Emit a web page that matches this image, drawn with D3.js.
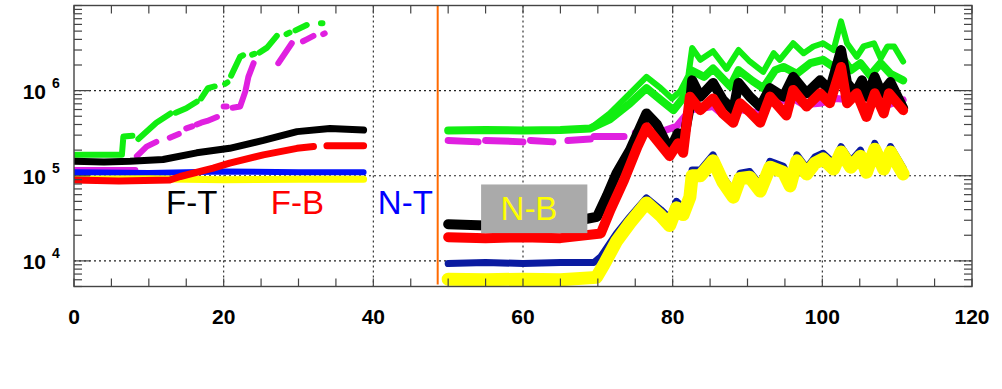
<!DOCTYPE html>
<html>
<head>
<meta charset="utf-8">
<script src="https://cdn.jsdelivr.net/npm/d3@7/dist/d3.min.js"></script>
<style>
  body { margin: 0; background: #fff; }
  svg { display: block; font-family: "Liberation Sans", Arial, sans-serif; }
</style>
</head>
<body>
<div id="chart"></div>
<script>
// Ejes
const xTicks = [0, 20, 40, 60, 80, 100, 120];
const xGrid = [20, 40, 60, 80, 100];
const yDecades = [1e4, 1e5, 1e6];
const yExponents = ['4', '5', '6'];
const splitX = 48.6;

// Series, [x, valor]; null = hueco
const greenLeft = [
  [0, 1.76e5], [6.4, 1.76e5], [6.6, 2.9e5], [7.8, 2.95e5], null,
  [8.6, 2.7e5], [11.0, 4.2e5], [12.9, 5.4e5], null,
  [13.6, 5.5e5], [15.0, 6.2e5], [16.4, 7.4e5], null,
  [17.0, 8.1e5], [17.9, 1.07e6], [18.8, 1.12e6], null,
  [20.2, 1.2e6], [20.5, 1.25e6], null,
  [21.0, 1.5e6], [22.2, 2.5e6], [22.6, 2.6e6], null,
  [23.8, 2.65e6], [24.1, 2.7e6], null,
  [24.8, 2.8e6], [25.8, 3.2e6], [27.1, 4.4e6], null,
  [28.4, 4.6e6], [28.8, 4.8e6], null,
  [29.6, 5.1e6], [31.1, 5.9e6], null,
  [33.0, 6.2e6], [33.2, 6.2e6]
];
const magentaLeft = [
  [0, 1.17e5], [8.2, 1.17e5], null,
  [8.4, 1.7e5], [9.7, 2.2e5], [11.0, 2.5e5], null,
  [12.8, 2.8e5], [14.0, 3.1e5], null,
  [15.0, 3.6e5], [15.8, 3.8e5], null,
  [16.4, 4.0e5], [17.0, 4.2e5], [17.8, 4.4e5], [19.1, 4.9e5], null,
  [20.0, 6.5e5], [20.4, 6.5e5], null,
  [21.2, 6.3e5], [22.2, 6.5e5], [22.9, 9.8e5], [23.3, 1.45e6], [24.0, 2.1e6], null,
  [27.3, 2.1e6], [28.2, 2.75e6], [29.1, 3.6e6], null,
  [30.6, 3.8e6], [31.1, 4.0e6], [32.0, 4.4e6], null,
  [33.3, 4.6e6], [33.5, 4.7e6]
];
const blackLeft = [
  [0, 1.48e5], [4, 1.45e5], [7.5, 1.48e5], [11.9, 1.55e5], [16.4, 1.86e5], [20.8, 2.1e5],
  [25.3, 2.6e5], [29.8, 3.3e5], [34.2, 3.6e5], [38.7, 3.45e5]
];
const redLeft = [
  [0, 8.9e4], [6, 8.7e4], [12.8, 8.9e4], [14.2, 9.8e4], [18.6, 1.23e5], [20.8, 1.41e5],
  [25.3, 1.76e5], [29.8, 2.1e5], [32.0, 2.2e5], null, [33.8, 2.25e5], [38.7, 2.25e5]
];
const blueLeft = [[0, 1.1e5], [10, 1.08e5], [20, 1.12e5], [30, 1.1e5], [38.7, 1.1e5]];
const yellowLeft = [[0, 9.1e4], [10, 9.2e4], [20, 9.0e4], [30, 9.1e4], [38.7, 9.1e4]];

const greenUpperRight = [
  [69, 3.6e5], [71.6, 5.4e5], [74.3, 9.3e5], [76.5, 1.45e6], [78.4, 1.07e6], [79.9, 8.1e5],
  [81.0, 9.8e5], [82.1, 1.5e6], [82.6, 3.16e6], [83.7, 2.3e6], [85.4, 2.9e6], [87.2, 1.8e6],
  [88.8, 3.0e6], [90.3, 2.2e6], [92.1, 1.66e6], [93.5, 2.75e6], [94.3, 2.3e6], [96.1, 3.6e6],
  [97.5, 2.75e6], [98.8, 3.3e6], [100.1, 3.6e6], [101.5, 3.0e6], [102.5, 6.5e6], [103.3, 3.6e6],
  [104.6, 2.5e6], [105.5, 3.3e6], [106.9, 3.6e6], [107.8, 2.4e6], [108.7, 3.3e6], [109.6, 3.3e6],
  [110.8, 2.2e6]
];
const greenLowerRight = [
  [50, 3.4e5], [55, 3.45e5], [60, 3.4e5], [65, 3.45e5], [69, 3.6e5], [71.6, 4.6e5], [74.3, 7.1e5],
  [76.5, 1.07e6], [78.4, 7.8e5], [80.1, 5.9e5], [81.2, 7.8e5], [82.1, 1.02e6], [82.4, 1.74e6],
  [84.2, 1.45e6], [85.4, 1.82e6], [87.7, 1.12e6], [88.8, 1.74e6], [90.7, 1.29e6], [92.1, 1.07e6],
  [93.7, 1.74e6], [94.8, 1.9e6], [96.6, 1.58e6], [98.4, 2.1e6], [100.1, 2.3e6], [101.5, 1.9e6],
  [102.6, 2.5e6], [103.8, 1.74e6], [105.1, 2.1e6], [106.4, 1.51e6], [107.8, 2.1e6], [109.1, 1.58e6],
  [110.8, 1.32e6]
];
const magentaRight = [
  [50, 2.6e5], [54, 2.5e5], null, [55, 2.6e5], [60, 2.5e5], null, [61, 2.6e5], [64, 2.5e5], null,
  [66, 2.6e5], [69, 2.7e5], null, [69.5, 2.9e5], [73.5, 2.9e5], null, [75, 3.2e5], [76.2, 3.2e5], null,
  [78.5, 3.3e5], [80.5, 3.8e5], [82.3, 5.9e5], [85.4, 6.5e5], [87.7, 4.4e5], [89.0, 6.0e5],
  [91.7, 5.4e5], [93.0, 7.1e5], [96.1, 8.1e5], [97.5, 6.8e5], [99.7, 7.1e5], [101.9, 8.1e5],
  [103.5, 7.8e5], [105.9, 9.3e5], [108.2, 6.5e5], [110.8, 7.8e5]
];
const blackRight = [
  [50, 2.7e4], [55, 2.6e4], [60, 2.6e4], [65, 2.7e4], [69.9, 3.3e4], [71.2, 5.8e4], [72.5, 1.07e5],
  [74.3, 2.0e5], [76.5, 5.4e5], [77.9, 4.0e5], [79.6, 2.0e5], [80.7, 3.16e5], [81.4, 2.5e5],
  [82.3, 6.5e5], [82.6, 1.32e6], [83.7, 8.5e5], [85.4, 1.23e6], [86.7, 7.8e5], [88.1, 5.9e5],
  [88.8, 1.23e6], [90.3, 8.5e5], [91.7, 6.5e5], [93.0, 1.07e6], [94.8, 8.5e5], [96.1, 1.45e6],
  [97.9, 9.3e5], [99.7, 1.32e6], [101.0, 1.02e6], [102.5, 3.0e6], [103.3, 1.23e6], [104.4, 9.3e5],
  [105.3, 1.32e6], [105.9, 8.5e5], [107.0, 1.45e6], [107.9, 9.3e5], [109.1, 1.26e6], [110.8, 6.2e5]
];
const redRight = [
  [50, 1.9e4], [55, 1.85e4], [60, 1.9e4], [65, 1.85e4], [70.4, 2.1e4], [71.7, 4.0e4], [73.5, 8.9e4],
  [75.3, 2.2e5], [76.5, 3.7e5], [77.9, 2.6e5], [79.6, 1.7e5], [80.7, 2.4e5], [81.4, 1.86e5],
  [82.3, 8.5e5], [83.7, 5.9e5], [85.4, 8.1e5], [86.7, 5.4e5], [88.1, 4.2e5], [89.0, 7.1e5],
  [90.3, 5.6e5], [91.7, 4.2e5], [93.0, 8.5e5], [95.2, 5.1e5], [96.1, 1.02e6], [97.9, 6.5e5],
  [99.7, 9.3e5], [101.0, 7.1e5], [102.5, 1.9e6], [103.3, 7.1e5], [104.6, 9.3e5], [105.9, 4.9e5],
  [107.0, 9.3e5], [108.2, 5.4e5], [108.9, 9.3e5], [110.8, 5.9e5]
];
const blueRight = [
  [50, 9.3e3], [55, 9.6e3], [60, 9.3e3], [65, 9.6e3], [69.5, 9.6e3], [70.4, 1.12e4], [72.5, 2.1e4],
  [74.3, 3.3e4], [76.5, 5.5e4], [78.4, 4.0e4], [79.6, 3.16e4], [80.5, 5.0e4], [81.4, 4.2e4],
  [82.3, 6.5e4], [82.6, 1.17e5], [83.7, 1.17e5], [85.4, 1.76e5], [86.7, 9.8e4], [88.1, 6.5e4],
  [89.0, 1.07e5], [90.3, 1.12e5], [91.7, 7.8e4], [93.0, 1.48e5], [94.8, 1.29e5], [95.7, 8.9e4],
  [96.6, 1.76e5], [97.9, 1.23e5], [99.0, 1.66e5], [100.1, 1.84e5], [101.5, 1.41e5], [102.5, 2.2e5],
  [103.8, 1.48e5], [105.1, 2.0e5], [105.9, 1.29e5], [107.0, 2.4e5], [108.2, 1.41e5], [109.1, 2.2e5],
  [110.8, 1.23e5]
];
const yellowRight = [
  [50, 6.1e3], [55, 6.0e3], [60, 6.1e3], [65, 6.0e3], [69.8, 6.4e3], [70.8, 9e3], [72.5, 1.7e4],
  [74.3, 2.8e4], [76.5, 4.8e4], [78.4, 3.4e4], [79.6, 2.6e4], [80.5, 4.2e4], [81.4, 3.5e4],
  [82.3, 5.6e4], [82.6, 1.0e5], [83.7, 1.0e5], [85.4, 1.5e5], [86.7, 8.5e4], [88.1, 5.6e4],
  [89.0, 9.3e4], [90.3, 9.6e4], [91.7, 6.6e4], [93.0, 1.26e5], [94.8, 1.1e5], [95.7, 7.6e4],
  [96.6, 1.5e5], [97.9, 1.05e5], [99.0, 1.4e5], [100.1, 1.58e5], [101.5, 1.2e5], [102.5, 1.9e5],
  [103.8, 1.26e5], [105.1, 1.7e5], [105.9, 1.1e5], [107.0, 2.05e5], [108.2, 1.2e5], [109.1, 1.9e5],
  [110.8, 1.05e5]
];

const labelNames = ['F-T', 'F-B', 'N-T', 'N-B'];

// Tamaño
const width = 1002, height = 389;
const margin = { top: 5.5, right: 30, bottom: 102.5, left: 74 };
const innerW = width - margin.left - margin.right;
const innerH = height - margin.top - margin.bottom;

const svg = d3.select('#chart').append('svg')
  .attr('width', width)
  .attr('height', height);

const g = svg.append('g')
  .attr('transform', `translate(${margin.left},${margin.top})`);

const x = d3.scaleLinear().domain([0, 120]).range([0, innerW]);
const y = d3.scaleLog().domain([5e3, 1e7]).range([innerH, 0]);

// Rejilla punteada
g.selectAll('.vgrid')
  .data(xGrid)
  .enter().append('line')
  .attr('x1', d => x(d)).attr('x2', d => x(d))
  .attr('y1', 0).attr('y2', innerH)
  .style('stroke', '#222').style('stroke-width', 1.1)
  .style('stroke-dasharray', '2,3');

g.selectAll('.hgrid')
  .data(yDecades)
  .enter().append('line')
  .attr('x1', 0).attr('x2', innerW)
  .attr('y1', d => y(d)).attr('y2', d => y(d))
  .style('stroke', '#222').style('stroke-width', 1.1)
  .style('stroke-dasharray', '2,3');

// Series
g.append('clipPath').attr('id', 'clip')
  .append('rect').attr('width', innerW).attr('height', innerH);

const line = d3.line()
  .defined(d => d !== null)
  .x(d => x(d[0]))
  .y(d => y(d[1]));

const series = [
  { data: greenLeft, color: '#11ee11', w: 6 },
  { data: greenUpperRight, color: '#11ee11', w: 6 },
  { data: greenLowerRight, color: '#11ee11', w: 8 },
  { data: magentaLeft, color: '#e020e0', w: 6 },
  { data: magentaRight, color: '#e020e0', w: 7 },
  { data: blueLeft, color: '#0010ff', w: 6 },
  { data: blueRight, color: '#0a1aa0', w: 7 },
  { data: yellowLeft, color: '#ffff00', w: 7 },
  { data: yellowRight, color: '#ffff00', w: 13 },
  { data: blackLeft, color: '#000000', w: 7 },
  { data: blackRight, color: '#000000', w: 10 },
  { data: redLeft, color: '#ff0000', w: 7 },
  { data: redRight, color: '#ff0000', w: 10 }
];

g.append('g').attr('clip-path', 'url(#clip)')
  .selectAll('path')
  .data(series)
  .enter().append('path')
  .attr('d', d => line(d.data))
  .style('fill', 'none')
  .style('stroke', d => d.color)
  .style('stroke-width', d => d.w)
  .style('stroke-linecap', 'round')
  .style('stroke-linejoin', 'round');

// Linea naranja de separacion
g.append('line')
  .attr('x1', x(splitX)).attr('x2', x(splitX))
  .attr('y1', 0).attr('y2', innerH - 2)
  .style('stroke', '#ff6a00').style('stroke-width', 2);

// Etiquetas de los grupos
const labelPos = [[12.3, 3.57e4], [26.3, 3.57e4], [40.6, 3.57e4], [57.0, 3.03e4]];
const labelColors = ['#000', '#ff0000', '#0000ff', '#ffff00'];

g.append('rect')
  .attr('x', x(54.4)).attr('y', y(7.9e4))
  .attr('width', x(68.6) - x(54.4))
  .attr('height', y(2.12e4) - y(7.9e4))
  .style('fill', '#aaaaaa');

g.selectAll('.lab')
  .data(labelNames)
  .enter().append('text')
  .attr('x', (d, i) => x(labelPos[i][0]))
  .attr('y', (d, i) => y(labelPos[i][1]))
  .style('font-size', '33px')
  .style('fill', (d, i) => labelColors[i])
  .text(d => d);

// Marco y marcas
g.append('rect')
  .attr('width', innerW).attr('height', innerH)
  .style('fill', 'none').style('stroke', '#444').style('stroke-width', 1.4);

const xMinor = d3.range(0, 121, 5);
xMinor.forEach(t => {
  g.append('line').attr('x1', x(t)).attr('x2', x(t))
    .attr('y1', innerH).attr('y2', innerH - 8)
    .style('stroke', '#444').style('stroke-width', 1.2);
  g.append('line').attr('x1', x(t)).attr('x2', x(t))
    .attr('y1', 0).attr('y2', 8)
    .style('stroke', '#444').style('stroke-width', 1.2);
});

y.ticks().forEach(t => {
  const major = yDecades.includes(t);
  const len = major ? 16 : 8;
  g.append('line').attr('x1', 0).attr('x2', len)
    .attr('y1', y(t)).attr('y2', y(t))
    .style('stroke', '#444').style('stroke-width', 1.2);
  g.append('line').attr('x1', innerW).attr('x2', innerW - len)
    .attr('y1', y(t)).attr('y2', y(t))
    .style('stroke', '#444').style('stroke-width', 1.2);
});

// Etiquetas de los ejes
g.selectAll('.xlab')
  .data(xTicks)
  .enter().append('text')
  .attr('x', d => x(d))
  .attr('y', innerH + 37.5)
  .attr('text-anchor', 'middle')
  .style('font-size', '21px')
  .style('font-weight', 'bold')
  .text(d => d);

const ylab = g.selectAll('.ylab')
  .data(yDecades)
  .enter().append('g')
  .attr('transform', d => `translate(0,${y(d)})`);

ylab.append('text')
  .attr('x', -28).attr('y', 8.5)
  .attr('text-anchor', 'end')
  .style('font-size', '21px')
  .style('font-weight', 'bold')
  .text('10');

ylab.append('text')
  .attr('x', -22).attr('y', -3)
  .style('font-size', '14px')
  .style('font-weight', 'bold')
  .text((d, i) => yExponents[i]);
</script>
</body>
</html>
